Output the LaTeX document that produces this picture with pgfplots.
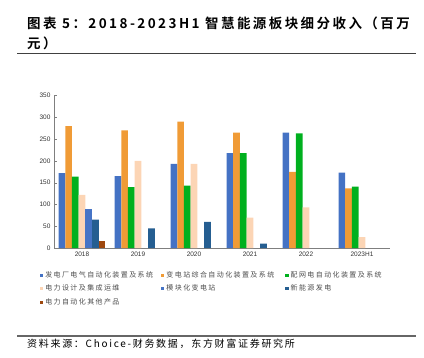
\documentclass[border=0pt]{standalone}
\usepackage{pgfplots}
\pgfplotsset{compat=1.18}
\usepackage{fontspec}
\setmainfont{Liberation Sans}
\newfontfamily\cjk{Noto Sans CJK SC}[LetterSpace=20]
\newfontfamily\cjkb{Noto Sans CJK SC Bold}[LetterSpace=18]
\newfontfamily\cjkls{Noto Sans CJK SC}[LetterSpace=17]
\definecolor{s1}{HTML}{4472C4}
\definecolor{s2}{HTML}{F09B36}
\definecolor{s3}{HTML}{00B01E}
\definecolor{s4}{HTML}{FCD5B5}
\definecolor{s5}{HTML}{4674C6}
\definecolor{s6}{HTML}{255E91}
\definecolor{s7}{HTML}{9E480E}
\definecolor{axc}{HTML}{7F7F7F}
\begin{document}
\begin{tikzpicture}[x=1pt,y=1pt]
\path[use as bounding box] (0,0) rectangle (424,357);
% title
\node[anchor=north west,align=left,inner sep=0pt,font=\cjkb\fontsize{13.5}{20}\selectfont] at (27,340) {图表 5：2018-2023H1 智慧能源板块细分收入（百万\\元）};
\draw[black!75,line width=1pt] (17,303) -- (416,303);
\draw[black!60,line width=1.5pt] (17,21) -- (416,21);
\node[anchor=west,inner sep=0pt,font=\cjkls\fontsize{10}{12}\selectfont] at (27,13) {资料来源：Choice-财务数据，东方财富证券研究所};
\begin{axis}[
  at={(54pt,109pt)}, anchor=south west,
  scale only axis, width=336pt, height=152.5pt,
  ybar=0pt, bar width=6.7pt,
  xmin=-0.5, xmax=5.5, ymin=0, ymax=350,
  ytick={0,50,...,350},
  xtick={0,...,5},
  xticklabels={2018,2019,2020,2021,2022,2023H1},
  extra x ticks={0.5,1.5,2.5,3.5,4.5},
  extra x tick labels={},
  extra x tick style={major tick length=2pt, tick style={axc}},
  major x tick style={draw=none},
  axis x line=bottom, axis y line=left,
  axis line style={axc,-},
  y tick style={axc}, tick align=inside, major tick length=3pt,
  ticklabel style={font=\fontsize{6.5}{8}\selectfont, text=black!80},
  /pgf/number format/assume math mode=true,
  legend columns=3,
  legend style={at={(-0.042,-0.14)}, anchor=north west, draw=none, fill=none,
    font=\cjk\fontsize{7}{8}\selectfont, text=black!70,
    /tikz/every even column/.append style={column sep=0pt},
    row sep=2pt, inner sep=0pt},
  legend cell align=left,
  legend image code/.code={\fill[#1,draw=none] (0pt,-1.6pt) rectangle (3.2pt,1.6pt);},
]
\addplot[fill=s1,draw=none] coordinates {(0,172) (1,165) (2,193) (3,218) (4,265) (5,173)};
\addlegendentry{\makebox[114pt][l]{发电厂电气自动化装置及系统}}
\addplot[fill=s2,draw=none] coordinates {(0,280) (1,270) (2,290) (3,265) (4,175) (5,137)};
\addlegendentry{\makebox[117pt][l]{变电站综合自动化装置及系统}}
\addplot[fill=s3,draw=none] coordinates {(0,164) (1,140) (2,143) (3,218) (4,263) (5,141)};
\addlegendentry{配网电自动化装置及系统}
\addplot[fill=s4,draw=none] coordinates {(0,122) (1,200) (2,193) (3,70) (4,93) (5,25)};
\addlegendentry{\makebox[114pt][l]{电力设计及集成运维}}
\addplot[fill=s5,draw=none] coordinates {(0,89)};
\addlegendentry{\makebox[117pt][l]{模块化变电站}}
\addplot[fill=s6,draw=none] coordinates {(0,65) (1,45) (2,60) (3,10)};
\addlegendentry{新能源发电}
\addplot[fill=s7,draw=none] coordinates {(0,16)};
\addlegendentry{电力自动化其他产品}
\end{axis}
\end{tikzpicture}
\end{document}
